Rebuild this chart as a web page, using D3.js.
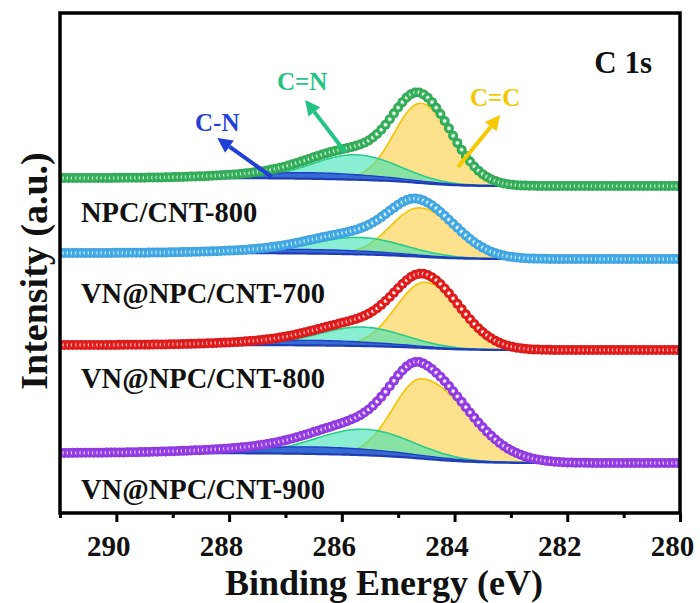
<!DOCTYPE html>
<html>
<head>
<meta charset="utf-8">
<script src="https://cdn.jsdelivr.net/npm/d3@7"></script>
<style>
  body { margin: 0; background: #fff; }
  text { font-family: "Liberation Serif", "Times New Roman", serif; font-weight: bold; }
</style>
</head>
<body>
<svg id="chart" width="700" height="603"></svg>
<script>
// Samples, stacked from top to bottom
const samples = ["NPC/CNT-800", "VN@NPC/CNT-700", "VN@NPC/CNT-800", "VN@NPC/CNT-900"];
const markerColors = ["#36b85e", "#45b2f2", "#ee1c1c", "#9b3ef0"];

// Shirley background level at the high / low binding-energy ends (a.u., stacking offset included)
const bgHigh = [335, 260, 168, 60];
const bgLow  = [327, 254, 163, 50];

// Fitted C 1s components: centre (eV), height (a.u.), HWHM on the high-BE and low-BE side (eV)
const ccCenter = [284.60, 284.62, 284.52, 284.58];   // C=C
const ccHeight = [80, 49, 66, 80];
const ccHwHigh = [0.55, 0.60, 0.61, 0.60];
const ccHwLow  = [0.65, 0.75, 0.73, 0.95];

const cndCenter = [285.75, 285.7, 285.65, 285.6];    // C=N
const cndHeight = [25, 17, 19, 26];
const cndHw     = [0.9, 0.95, 0.9, 1.0];

const cnsCenter = [286.5, 286.5, 286.5, 286.5];      // C-N
const cnsHeight = [6, 4, 5, 7];
const cnsHw     = [1.5, 1.6, 1.5, 1.8];

const xMajorTicks = [290, 288, 286, 284, 282, 280];
const xMinorTicks = [291, 289, 287, 285, 283, 281];
const energyStep = 0.075;   // acquisition step (eV)

const svg = d3.select("#chart");
const m = { left: 60, right: 680, top: 13, bottom: 513 };

const x = d3.scaleLinear().domain([291, 280]).range([m.left, m.right]);
const y = d3.scaleLinear().domain([0, 500]).range([m.bottom, m.top]);

const energies = d3.range(0, Math.round((291 - 280) / energyStep) + 1).map(i => 291 - i * energyStep);

function peak(E, c, h, wHigh, wLow) {
  const w = E > c ? wHigh : wLow;
  const d = (E - c) / w;
  return h * Math.exp(-Math.LN2 * d * d);
}

// gradients for the spherical markers
const defs = svg.append("defs");
markerColors.forEach((c, i) => {
  const g = defs.append("radialGradient").attr("id", "ball" + i)
    .attr("cx", "50%").attr("cy", "50%").attr("r", "50%");
  g.append("stop").attr("offset", "0%").attr("stop-color", "#ffffff");
  g.append("stop").attr("offset", "18%").attr("stop-color", "#ffffff");
  g.append("stop").attr("offset", "48%").attr("stop-color", c);
  g.append("stop").attr("offset", "100%").attr("stop-color", d3.color(c).darker(0.35));
});
defs.append("clipPath").attr("id", "plotClip").append("rect")
  .attr("x", m.left).attr("y", m.top).attr("width", m.right - m.left).attr("height", m.bottom - m.top);

const plot = svg.append("g").attr("clip-path", "url(#plotClip)");

samples.forEach((name, i) => {
  // components on the energy grid
  const comps = energies.map(E => ({
    E,
    cc: peak(E, ccCenter[i], ccHeight[i], ccHwHigh[i], ccHwLow[i]),
    cnd: peak(E, cndCenter[i], cndHeight[i], cndHw[i], cndHw[i]),
    cns: peak(E, cnsCenter[i], cnsHeight[i], cnsHw[i], cnsHw[i])
  }));
  // Shirley background: step proportional to the peak area on the low-BE side
  const sums = comps.map(d => d.cc + d.cnd + d.cns);
  const total = d3.sum(sums);
  let acc = 0;
  const bgArr = new Array(comps.length);
  for (let k = comps.length - 1; k >= 0; k--) {
    acc += sums[k];
    bgArr[k] = bgLow[i] + (bgHigh[i] - bgLow[i]) * acc / total;
  }
  comps.forEach((d, k) => { d.bg = bgArr[k]; d.env = d.bg + sums[k]; });

  const g = plot.append("g");
  const layers = [
    { key: "cc",  fill: "#fcd766", fillOp: 0.75, stroke: "#f5c400", sw: 1.6 },
    { key: "cnd", fill: "#3ae2b4", fillOp: 0.6, stroke: "#2bcb8c", sw: 1.6 },
    { key: "cns", fill: "#2a55d6", fillOp: 0.85, stroke: "#1e3ec8", sw: 1.4 }
  ];
  layers.forEach(L => {
    g.append("path").datum(comps)
      .attr("fill", L.fill).attr("fill-opacity", L.fillOp)
      .attr("d", d3.area().x(d => x(d.E)).y0(d => y(d.bg)).y1(d => y(d.bg + d[L.key])).curve(d3.curveBasis));
    g.append("path").datum(comps)
      .attr("fill", "none").attr("stroke", L.stroke).attr("stroke-width", L.sw)
      .attr("d", d3.line().x(d => x(d.E)).y(d => y(d.bg + d[L.key])).curve(d3.curveBasis));
  });
  g.append("path").datum(comps)
    .attr("fill", "none").attr("stroke", "#1f3db8").attr("stroke-width", 2.2)
    .attr("d", d3.line().x(d => x(d.E)).y(d => y(d.bg)).curve(d3.curveBasis));

  g.selectAll("circle").data(comps).join("circle")
    .attr("cx", d => x(d.E)).attr("cy", d => y(d.env)).attr("r", 5)
    .attr("fill", `url(#ball${i})`);
});

// sample names
const labelY = [222, 303, 388, 499];
samples.forEach((name, i) => {
  svg.append("text").attr("x", 81).attr("y", labelY[i])
    .attr("font-size", 28.5).attr("fill", "#111").text(name);
});

// component annotations on the top spectrum
const notes = [
  { text: "C-N", color: "#1f3fd6", tx: 195, ty: 131, from: [287.24, 336], to: [288.21, 375] },
  { text: "C=N", color: "#22c483", tx: 277, ty: 90,  from: [285.94, 361], to: [286.65, 413] },
  { text: "C=C", color: "#f5c800", tx: 470, ty: 106, from: [283.94, 346], to: [283.19, 398] }
];
notes.forEach(n => {
  const x1 = x(n.from[0]), y1 = y(n.from[1]), x2 = x(n.to[0]), y2 = y(n.to[1]);
  const a = Math.atan2(y2 - y1, x2 - x1);
  const hl = 15, hw = 7.5;
  const bx = x2 - hl * Math.cos(a), by = y2 - hl * Math.sin(a);
  svg.append("line").attr("x1", x1).attr("y1", y1).attr("x2", bx).attr("y2", by)
    .attr("stroke", n.color).attr("stroke-width", 4);
  const pts = [
    [x2, y2],
    [bx + hw * Math.sin(a), by - hw * Math.cos(a)],
    [bx - hw * Math.sin(a), by + hw * Math.cos(a)]
  ];
  svg.append("polygon").attr("points", pts.map(p => p.join(",")).join(" ")).attr("fill", n.color);
  svg.append("text").attr("x", n.tx).attr("y", n.ty).attr("font-size", 25)
    .attr("fill", n.color).text(n.text);
});

svg.append("text").attr("x", 652).attr("y", 73).attr("text-anchor", "end")
  .attr("font-size", 31).attr("fill", "#111").text("C 1s");

// frame and bottom axis
svg.append("rect").attr("x", m.left).attr("y", m.top)
  .attr("width", m.right - m.left).attr("height", m.bottom - m.top)
  .attr("fill", "none").attr("stroke", "#000").attr("stroke-width", 3.5);

const axis = svg.append("g").attr("transform", `translate(0,${m.bottom})`);
axis.call(d3.axisBottom(x).tickValues(xMajorTicks).tickSize(9).tickPadding(13).tickFormat(d3.format("d")));
axis.select(".domain").remove();
axis.selectAll(".tick line").attr("stroke", "#000").attr("stroke-width", 3);
axis.selectAll(".tick text").attr("font-size", 29).attr("fill", "#111").attr("dx", -8)
  .attr("font-family", "Liberation Serif, Times New Roman, serif").attr("font-weight", "bold");
const minor = svg.append("g").attr("transform", `translate(0,${m.bottom})`);
minor.call(d3.axisBottom(x).tickValues(xMinorTicks).tickSize(5).tickFormat(""));
minor.select(".domain").remove();
minor.selectAll(".tick line").attr("stroke", "#000").attr("stroke-width", 3);

svg.append("text").attr("x", 384).attr("y", 595)
  .attr("text-anchor", "middle").attr("font-size", 36).attr("fill", "#111")
  .text("Binding Energy (eV)");
svg.append("text").attr("transform", `translate(47,271) rotate(-90)`)
  .attr("text-anchor", "middle").attr("font-size", 38).attr("fill", "#111")
  .text("Intensity (a.u.)");
</script>
</body>
</html>
